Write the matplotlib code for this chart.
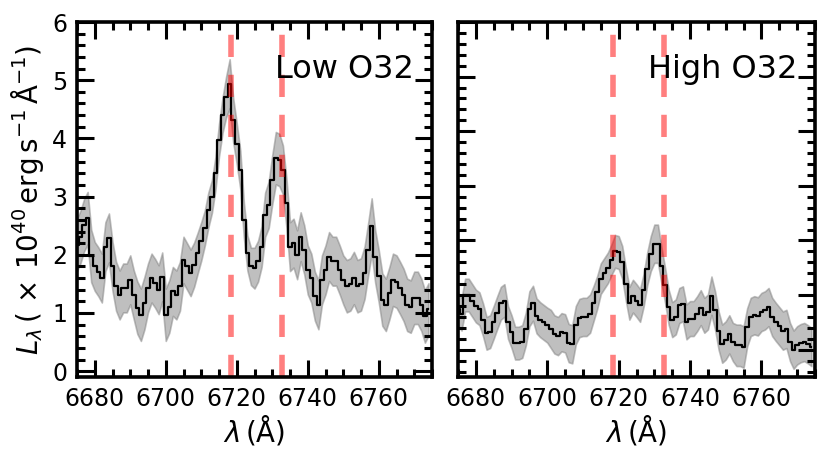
import numpy as np
import matplotlib
matplotlib.use("Agg")
import matplotlib.pyplot as plt
from matplotlib.ticker import MultipleLocator

# wavelength grid (Angstrom), 1 A sampling
wave_start = 6675
wave_stop = 6775

low_flux = [2.17, 2.31, 2.51, 2.63, 1.98, 1.80, 1.71, 1.60, 2.14, 2.29,
            1.80, 1.46, 1.31, 1.43, 1.43, 1.57, 1.31, 1.09, 0.97, 1.17,
            1.43, 1.60, 1.51, 1.40, 1.62, 0.97, 1.11, 1.37, 1.31, 1.46,
            1.91, 1.80, 1.69, 1.83, 2.03, 2.23, 2.46, 2.77, 3.00, 3.40,
            3.97, 4.40, 4.71, 4.94, 4.31, 3.91, 3.46, 2.60, 2.03, 1.80,
            1.77, 1.89, 2.14, 2.69, 2.86, 3.29, 3.66, 3.63, 3.46, 2.89,
            2.14, 2.20, 2.00, 2.31, 2.09, 1.74, 1.60, 1.29, 1.14, 1.57,
            1.74, 1.97, 1.89, 1.89, 1.74, 1.57, 1.46, 1.49, 1.60, 1.46,
            1.49, 1.69, 2.09, 2.49, 1.97, 1.63, 1.23, 1.14, 1.34, 1.57,
            1.54, 1.43, 1.31, 1.14, 1.11, 1.26, 1.26, 1.14, 0.94, 1.06]

low_err = [0.45, 0.45, 0.45, 0.45, 0.45, 0.42, 0.42, 0.42, 0.42, 0.42,
           0.42, 0.42, 0.42, 0.42, 0.42, 0.42, 0.42, 0.45, 0.45, 0.45,
           0.42, 0.42, 0.42, 0.42, 0.42, 0.45, 0.45, 0.42, 0.42, 0.42,
           0.40, 0.40, 0.40, 0.38, 0.35, 0.33, 0.30, 0.30, 0.28, 0.28,
           0.28, 0.30, 0.35, 0.42, 0.38, 0.35, 0.33, 0.30, 0.30, 0.32,
           0.35, 0.35, 0.35, 0.38, 0.40, 0.42, 0.45, 0.45, 0.42, 0.42,
           0.42, 0.42, 0.42, 0.42, 0.42, 0.42, 0.42, 0.42, 0.42, 0.42,
           0.42, 0.42, 0.42, 0.42, 0.42, 0.42, 0.45, 0.45, 0.45, 0.45,
           0.45, 0.45, 0.45, 0.48, 0.45, 0.45, 0.45, 0.45, 0.45, 0.45,
           0.45, 0.45, 0.45, 0.45, 0.45, 0.45, 0.45, 0.45, 0.45, 0.45]

high_flux = [0.75, 0.65, 1.00, 1.00, 0.90, 0.80, 0.75, 0.55, 0.30, 0.33,
             0.50, 0.68, 0.85, 0.90, 0.50, 0.33, 0.12, 0.12, 0.15, 0.38,
             0.75, 0.85, 0.62, 0.55, 0.50, 0.45, 0.38, 0.28, 0.25, 0.32,
             0.30, 0.12, 0.10, 0.45, 0.58, 0.60, 0.60, 0.66, 0.85, 1.05,
             1.30, 1.40, 1.50, 1.65, 1.80, 1.78, 1.60, 1.20, 0.85, 0.98,
             0.90, 0.81, 1.09, 1.48, 1.76, 1.94, 1.94, 1.54, 1.18, 0.78,
             0.55, 0.60, 0.81, 0.84, 0.51, 0.57, 0.57, 0.66, 0.77, 0.63,
             0.69, 0.99, 0.72, 0.35, 0.11, 0.17, 0.28, 0.14, 0.08, 0.08,
             0.05, 0.41, 0.60, 0.63, 0.61, 0.69, 0.72, 0.78, 0.60, 0.51,
             0.43, 0.35, 0.38, 0.14, 0.00, 0.08, 0.12, 0.14, 0.10, 0.05]

high_err = [0.30, 0.30, 0.30, 0.30, 0.30, 0.30, 0.30, 0.30, 0.30, 0.30,
            0.30, 0.30, 0.30, 0.30, 0.30, 0.30, 0.30, 0.30, 0.30, 0.30,
            0.32, 0.32, 0.32, 0.32, 0.32, 0.32, 0.35, 0.35, 0.35, 0.35,
            0.35, 0.35, 0.35, 0.35, 0.35, 0.35, 0.35, 0.35, 0.32, 0.30,
            0.28, 0.28, 0.28, 0.28, 0.30, 0.30, 0.30, 0.30, 0.30, 0.30,
            0.30, 0.30, 0.30, 0.30, 0.32, 0.35, 0.35, 0.33, 0.32, 0.32,
            0.32, 0.32, 0.32, 0.32, 0.32, 0.32, 0.32, 0.32, 0.32, 0.32,
            0.32, 0.35, 0.35, 0.35, 0.35, 0.35, 0.35, 0.35, 0.38, 0.38,
            0.38, 0.35, 0.35, 0.35, 0.35, 0.35, 0.35, 0.35, 0.35, 0.35,
            0.35, 0.35, 0.35, 0.35, 0.35, 0.35, 0.35, 0.35, 0.35, 0.35]

line_waves = [6718.3, 6732.7]   # [SII] doublet
panel_labels = ["Low O32", "High O32"]
panel_ylims = [(-0.1, 6), (-0.5, 6)]
x_ticks = [6680, 6700, 6720, 6740, 6760]

wave = np.arange(wave_start, wave_stop)

fig = plt.figure(figsize=(8.31, 4.67), dpi=100)
ax1 = fig.add_axes([77/831, 1-377/467, 355/831, 355/467])
ax2 = fig.add_axes([458/831, 1-377/467, 357/831, 355/467])

datasets = [(low_flux, low_err), (high_flux, high_err)]
for i, (ax, (flux, err)) in enumerate(zip([ax1, ax2], datasets)):
    f = np.array(flux)
    e = np.array(err)
    ax.fill_between(wave, f - e, f + e, color='gray', alpha=0.5, lw=1.2)
    ax.plot(wave, f, color='black', lw=1.6, drawstyle='steps-mid')
    for lw_ in line_waves:
        ax.axvline(lw_, color='red', alpha=0.5, lw=4, ls=(0, (4, 3.2)))
    ax.set_xlim(wave_start, wave_stop)
    ax.set_ylim(*panel_ylims[i])
    ax.set_xticks(x_ticks)
    ax.xaxis.set_minor_locator(MultipleLocator(5))
    ax.yaxis.set_major_locator(MultipleLocator(1))
    ax.yaxis.set_minor_locator(MultipleLocator(0.2))
    ax.tick_params(which='both', direction='in', top=True, right=True,
                   width=2.2, labelsize=17, pad=7)
    ax.tick_params(which='major', length=12)
    ax.tick_params(which='minor', length=6)
    for sp in ax.spines.values():
        sp.set_linewidth(2.6)
    ax.set_xlabel(r'$\lambda\,(\mathrm{\AA})$', fontsize=20, labelpad=2)
    ax.text(0.95, 0.865, panel_labels[i], transform=ax.transAxes,
            ha='right', va='center', fontsize=23)

ax2.tick_params(axis='y', labelleft=False)
ax1.set_ylabel(r'$L_\lambda\,(\,\times\,10^{40}\,\mathrm{erg\,s^{-1}\,\AA^{-1}})$',
               fontsize=20, labelpad=4)

fig.savefig('out.png', dpi=100)
